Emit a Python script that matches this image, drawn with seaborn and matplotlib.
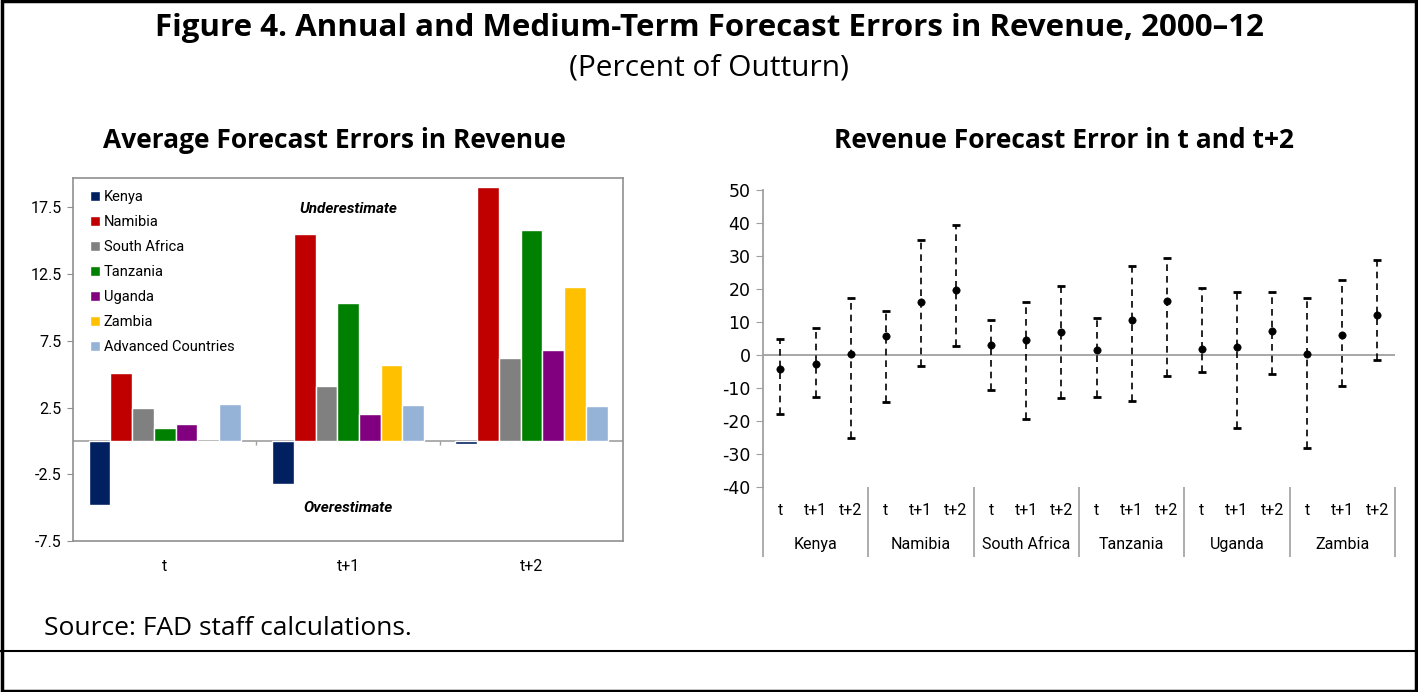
import numpy as np
import pandas as pd
import matplotlib
matplotlib.use("Agg")
import matplotlib.pyplot as plt
import matplotlib.transforms as mtransforms
from matplotlib.patches import Rectangle
from matplotlib.lines import Line2D
import seaborn as sns

# ---- data: left panel (average forecast errors, percent of outturn) ----
horizons = ["t", "t+1", "t+2"]
bar_countries = ["Kenya", "Namibia", "South Africa", "Tanzania", "Uganda",
                 "Zambia", "Advanced Countries"]
kenya = [-4.8, -3.2, -0.2]
namibia = [5.1, 15.5, 19.0]
south_africa = [2.5, 4.1, 6.2]
tanzania = [1.0, 10.3, 15.8]
uganda = [1.3, 2.0, 6.8]
zambia = [-0.05, 5.7, 11.5]
advanced = [2.75, 2.7, 2.6]
bar_colors = ["#002060", "#C00000", "#808080", "#008000", "#800080",
              "#FFC000", "#95B3D7"]

# ---- data: right panel (forecast error ranges) ----
err_countries = ["Kenya", "Namibia", "South Africa", "Tanzania", "Uganda", "Zambia"]
err_mid = [-4.1, -2.8, 0.4, 5.7, 16.1, 19.6, 2.9, 4.7, 6.9,
           1.4, 10.7, 16.4, 1.8, 2.5, 7.2, 0.4, 6.2, 12.2]
err_high = [4.9, 8.1, 17.4, 13.4, 35.0, 39.3, 10.5, 16.0, 20.8,
            11.3, 26.9, 29.4, 20.2, 19.0, 19.0, 17.3, 22.6, 28.8]
err_low = [-17.9, -12.6, -25.2, -14.3, -3.3, 2.7, -10.7, -19.3, -13.0,
           -12.7, -14.0, -6.5, -5.1, -22.1, -5.8, -28.2, -9.4, -1.5]

sns.set_style("white")
plt.rcParams["font.family"] = ["Roboto", "DejaVu Sans"]
plt.rcParams["axes.unicode_minus"] = False
for key in ["text.color", "axes.labelcolor", "xtick.color", "ytick.color"]:
    plt.rcParams[key] = "black"

head_font = ["Open Sans", "DejaVu Sans"]

fig = plt.figure(figsize=(14.18, 6.92), dpi=100)

# titles and frame
fig.text(0.5, 0.960, "Figure 4. Annual and Medium-Term Forecast Errors in Revenue, 2000\u201312",
         ha="center", va="center", fontsize=22.5, fontweight="bold", family=head_font)
fig.text(0.5, 0.902, "(Percent of Outturn)", ha="center", va="center",
         fontsize=21.5, family=head_font)
fig.text(0.236, 0.797, "Average Forecast Errors in Revenue", ha="center", va="center",
         fontsize=19, fontweight="bold", family=head_font)
fig.text(0.75, 0.797, "Revenue Forecast Error in t and t+2", ha="center", va="center",
         fontsize=19, fontweight="bold", family=head_font)
fig.text(0.031, 0.092, "Source: FAD staff calculations.", ha="left", va="center",
         fontsize=19, family=head_font)
fig.add_artist(Rectangle((0.0015, 0.002), 0.997, 0.996, transform=fig.transFigure,
                         fill=False, edgecolor="black", linewidth=2.5))
fig.add_artist(Line2D([0, 1], [0.059, 0.059], transform=fig.transFigure,
                      color="black", linewidth=1.5))

# ---- left panel ----
ax1 = fig.add_axes([0.0515, 0.218, 0.388, 0.525])
df = pd.DataFrame({
    "horizon": horizons * len(bar_countries),
    "country": np.repeat(bar_countries, len(horizons)),
    "value": kenya + namibia + south_africa + tanzania + uganda + zambia + advanced,
})
sns.barplot(data=df, x="horizon", y="value", hue="country", hue_order=bar_countries,
            palette=bar_colors, saturation=1, width=0.83, ax=ax1)
ax1.set_ylim(-7.5, 19.7)
ax1.set_xlim(-0.5, 2.5)
ax1.set_yticks([-7.5, -2.5, 2.5, 7.5, 12.5, 17.5])
ax1.set_yticklabels(["-7.5", "-2.5", "2.5", "7.5", "12.5", "17.5"])
ax1.axhline(0, color="#a0a0a0", linewidth=1.2, zorder=0.5)
ax1.vlines([0.5, 1.5], -0.3, 0, color="#a0a0a0", linewidth=1)
for s in ax1.spines.values():
    s.set_color("#909090")
    s.set_linewidth(1.2)
ax1.tick_params(axis="y", left=True, length=4, color="#909090", labelsize=11.5, pad=4)
ax1.tick_params(axis="x", bottom=False, labelsize=11.5, pad=9)
ax1.set_xlabel("")
ax1.set_ylabel("")
ax1.legend(loc="upper left", bbox_to_anchor=(0.015, 0.99), frameon=False,
           fontsize=10.5, handlelength=0.7, handleheight=0.7, handletextpad=0.25,
           labelspacing=0.75, borderaxespad=0.2)
ax1.text(1.0, 17.4, "Underestimate", ha="center", va="center", fontsize=11,
         fontstyle="italic", fontweight="bold")
ax1.text(1.0, -5.0, "Overestimate", ha="center", va="center", fontsize=11,
         fontstyle="italic", fontweight="bold")

# ---- right panel ----
ax2 = fig.add_axes([0.538, 0.2962, 0.4458, 0.4292])
xpos = np.arange(len(err_mid))
mid = np.array(err_mid)
eb = ax2.errorbar(xpos, mid, yerr=[mid - np.array(err_low), np.array(err_high) - mid],
                  fmt="none", ecolor="black", elinewidth=1.2, capsize=3, capthick=2)
eb[2][0].set_linestyle((0, (4, 3)))
sns.scatterplot(x=xpos, y=err_mid, color="black", s=28, edgecolor="black",
                zorder=3, ax=ax2)
ax2.set_xlim(-0.5, len(err_mid) - 0.5)
ax2.set_ylim(-40, 50)
ax2.set_yticks(range(-40, 51, 10))
ax2.axhline(0, color="#a0a0a0", linewidth=1.3, zorder=0.5)
for name in ["top", "right", "bottom"]:
    ax2.spines[name].set_visible(False)
ax2.spines["left"].set_color("#a0a0a0")
ax2.spines["left"].set_linewidth(1.3)
ax2.tick_params(axis="y", left=True, length=5, color="#a0a0a0", labelsize=12.5, pad=4)
for lab in ax2.get_yticklabels():
    lab.set_family("DejaVu Sans")
ax2.set_xticks(xpos)
ax2.set_xticklabels(horizons * len(err_countries))
ax2.tick_params(axis="x", bottom=False, labelsize=11.5, pad=8)
trans = mtransforms.blended_transform_factory(ax2.transData, ax2.transAxes)
bounds = np.arange(-0.5, len(err_mid), 3)
ax2.vlines(bounds, -0.235, 0, transform=trans, color="#a0a0a0", linewidth=1.2,
           clip_on=False)
for i, c in enumerate(err_countries):
    ax2.text(3 * i + 1, -0.195, c, transform=trans, ha="center", va="center",
             fontsize=11.5)

fig.savefig("out.png", dpi=100)
